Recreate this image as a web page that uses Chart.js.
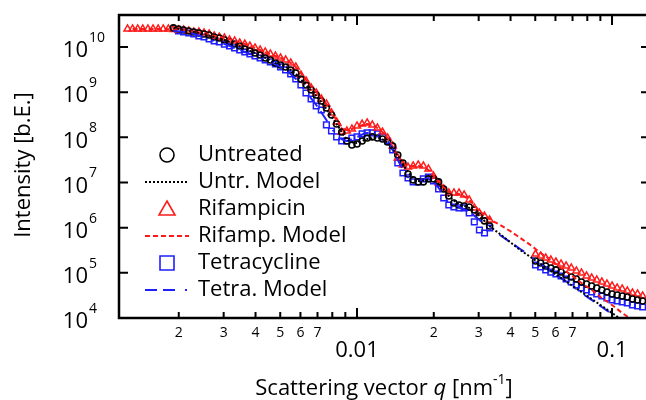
<!DOCTYPE html>
<html>
<head>
<meta charset="utf-8">
<script src="https://cdn.jsdelivr.net/npm/chart.js@4.4.1/dist/chart.umd.min.js"></script>
<style>
  html, body { margin: 0; padding: 0; background: #fff; overflow: hidden; }
  #wrap { width: 646px; height: 400px; overflow: hidden; }
</style>
</head>
<body>
<div id="wrap"><canvas id="saxsChart" width="660" height="400"></canvas></div>
<script>
// Measured q grid (nm^-1): two detector ranges
const qData = [
  0.001259, 0.001318, 0.001380, 0.001445, 0.001514, 0.001585, 0.001660, 0.001738, 0.001820, 0.001905,
  0.001995, 0.002089, 0.002188, 0.002291, 0.002399, 0.002512, 0.002630, 0.002754, 0.002884, 0.003020,
  0.003162, 0.003311, 0.003467, 0.003631, 0.003802, 0.003981, 0.004169, 0.004365, 0.004571, 0.004786,
  0.005012, 0.005248, 0.005495, 0.005754, 0.006026, 0.006310, 0.006607, 0.006918, 0.007244, 0.007586,
  0.007943, 0.008318, 0.008710, 0.009120, 0.009550, 0.01000, 0.01047, 0.01096, 0.01148, 0.01202,
  0.01259, 0.01318, 0.01380, 0.01445, 0.01514, 0.01585, 0.01660, 0.01738, 0.01820, 0.01905,
  0.01995, 0.02089, 0.02188, 0.02291, 0.02399, 0.02512, 0.02630, 0.02754, 0.02884, 0.03020,
  0.03162, 0.03311,
  0.05012, 0.05248, 0.05495, 0.05754, 0.06026, 0.06310, 0.06607, 0.06918, 0.07244, 0.07586,
  0.07943, 0.08318, 0.08710, 0.09120, 0.09550, 0.1000, 0.1047, 0.1096, 0.1148, 0.1202,
  0.1259, 0.1318
];

const untreated = [
  null, null, null, null, null, null, null, null, null, 2.64e10,
  2.50e10, 2.38e10, 2.26e10, 2.15e10, 2.04e10, 1.94e10, 1.84e10, 1.66e10, 1.58e10, 1.43e10,
  1.29e10, 1.16e10, 1.05e10, 9.03e9, 8.15e9, 7.36e9, 6.65e9, 5.71e9, 5.15e9, 4.42e9,
  4.00e9, 3.61e9, 3.10e9, 2.66e9, 1.96e9, 1.44e9, 1.12e9, 8.66e8, 6.38e8, 4.46e8,
  3.12e8, 1.97e8, 1.31e8, 8.30e7, 6.77e7, 7.12e7, 8.30e7, 9.67e7, 1.02e8, 9.67e7,
  9.19e7, 7.89e7, 6.43e7, 4.07e7, 2.70e7, 1.54e7, 1.14e7, 1.03e7, 1.03e7, 1.20e7,
  1.20e7, 1.03e7, 7.19e6, 5.03e6, 3.52e6, 3.18e6, 3.02e6, 2.87e6, 2.46e6, 1.81e6,
  1.41e6, 1.09e6,
  1.83e5, 1.65e5, 1.42e5, 1.28e5, 1.16e5, 1.04e5, 8.96e4, 8.10e4, 7.31e4, 6.28e4,
  5.67e4, 5.12e4, 4.62e4, 4.17e4, 3.77e4, 3.40e4, 3.23e4, 3.07e4, 2.92e4, 2.64e4,
  2.51e4, 2.38e4
];

const rifampicin = [
  2.50e10, 2.50e10, 2.50e10, 2.50e10, 2.50e10, 2.50e10, 2.50e10, 2.50e10, 2.50e10, 2.45e10,
  2.38e10, 2.38e10, 2.26e10, 2.15e10, 2.15e10, 2.04e10, 1.94e10, 1.75e10, 1.66e10, 1.58e10,
  1.43e10, 1.36e10, 1.23e10, 1.16e10, 1.05e10, 9.51e9, 8.59e9, 7.75e9, 7.00e9, 6.32e9,
  5.71e9, 5.15e9, 4.42e9, 3.61e9, 2.40e9, 1.77e9, 1.24e9, 9.59e8, 7.06e8, 5.47e8,
  3.46e8, 2.19e8, 1.31e8, 1.38e8, 1.53e8, 1.78e8, 1.97e8, 2.08e8, 1.88e8, 1.61e8,
  1.31e8, 9.67e7, 6.43e7, 3.49e7, 2.44e7, 2.20e7, 2.32e7, 2.44e7, 2.32e7, 1.99e7,
  1.39e7, 9.76e6, 7.19e6, 5.86e6, 5.86e6, 5.86e6, 5.29e6, 4.10e6, 2.73e6, 2.11e6,
  1.81e6, 1.48e6,
  2.61e5, 2.36e5, 2.13e5, 1.93e5, 1.74e5, 1.57e5, 1.42e5, 1.28e5, 1.10e5, 9.93e4,
  8.52e4, 7.69e4, 6.95e4, 6.28e4, 5.67e4, 5.12e4, 4.62e4, 4.39e4, 3.97e4, 3.58e4,
  3.40e4, 3.07e4
];

const tetracycline = [
  null, null, null, null, null, null, null, null, null, null,
  2.26e10, 2.15e10, 2.04e10, 1.94e10, 1.75e10, 1.66e10, 1.50e10, 1.36e10, 1.29e10, 1.16e10,
  1.05e10, 9.51e9, 8.59e9, 7.75e9, 7.00e9, 6.32e9, 5.71e9, 5.15e9, 4.66e9, 4.20e9,
  3.61e9, 3.10e9, 2.53e9, 1.96e9, 1.44e9, 9.59e8, 7.06e8, 4.94e8, 4.03e8, 1.88e8,
  1.38e8, 1.02e8, 8.30e7, 8.30e7, 9.67e7, 1.02e8, 1.19e8, 1.25e8, 1.25e8, 1.19e8,
  1.02e8, 8.30e7, 5.25e7, 2.70e7, 1.62e7, 1.26e7, 1.03e7, 1.03e7, 1.20e7, 1.32e7,
  1.08e7, 7.19e6, 4.54e6, 3.18e6, 2.87e6, 2.73e6, 2.73e6, 2.11e6, 1.34e6, 8.89e5,
  7.63e5, 9.84e5,
  1.49e5, 1.35e5, 1.16e5, 1.04e5, 9.43e4, 8.52e4, 7.31e4, 6.28e4, 5.39e4, 4.62e4,
  4.17e4, 3.77e4, 3.40e4, 3.07e4, 2.78e4, 2.51e4, 2.38e4, 2.26e4, 2.15e4, 1.94e4,
  1.85e4, 1.75e4
];

// Model curves
const qModel = [
  0.001318, 0.001445, 0.001585, 0.001738, 0.001905, 0.002089, 0.002291, 0.002512, 0.002754, 0.003020,
  0.003311, 0.003631, 0.003981, 0.004365, 0.004786, 0.005248, 0.005754, 0.006310, 0.006918, 0.007586,
  0.008318, 0.009120, 0.01000, 0.01096, 0.01202, 0.01318, 0.01445, 0.01585, 0.01738, 0.01905,
  0.02089, 0.02291, 0.02512, 0.02754, 0.03020, 0.03311, 0.03631, 0.03981, 0.04365, 0.04786,
  0.05248, 0.05754, 0.06310, 0.06918, 0.07586, 0.08318, 0.09120, 0.1000, 0.1096, 0.1202,
  0.1318
];

const untrModel = [
  null, null, null, null, 2.64e10, 2.38e10, 2.15e10, 1.94e10, 1.66e10, 1.43e10,
  1.16e10, 9.03e9, 7.36e9, 5.71e9, 4.42e9, 3.61e9, 2.53e9, 1.44e9, 8.23e8, 4.24e8,
  1.97e8, 9.19e7, 7.50e7, 9.19e7, 9.67e7, 7.50e7, 3.86e7, 1.71e7, 1.08e7, 1.14e7,
  9.27e6, 5.03e6, 3.34e6, 2.73e6, 1.81e6, 1.09e6, 7.25e5, 4.82e5, 3.21e5, 2.24e5,
  1.57e5, 1.10e5, 7.69e4, 5.39e4, 3.77e4, 2.64e4, 1.85e4, 1.29e4, 9.04e3, 6.33e3,
  4.4e3
];

const rifampModel = [
  2.50e10, 2.50e10, 2.50e10, 2.50e10, 2.44e10, 2.38e10, 2.15e10, 2.04e10, 1.75e10, 1.58e10,
  1.36e10, 1.16e10, 9.51e9, 7.75e9, 6.32e9, 5.15e9, 3.61e9, 1.86e9, 1.01e9, 5.47e8,
  2.42e8, 1.45e8, 1.69e8, 1.97e8, 1.61e8, 9.67e7, 3.86e7, 2.32e7, 2.32e7, 1.89e7,
  1.03e7, 6.17e6, 5.57e6, 4.10e6, 2.34e6, 1.56e6, 1.15e6, 8.45e5, 5.91e5, 4.14e5,
  2.75e5, 1.93e5, 1.28e5, 8.96e4, 5.96e4, 4.17e4, 2.78e4, 1.94e4, 1.29e4, 9.04e3,
  6.02e3
];

const tetraModel = [
  null, null, null, null, 2.26e10, 2.15e10, 1.94e10, 1.66e10, 1.36e10, 1.16e10,
  9.51e9, 7.75e9, 6.32e9, 5.15e9, 4.20e9, 3.10e9, 1.96e9, 1.01e9, 5.20e8, 2.42e8,
  1.13e8, 8.30e7, 1.02e8, 1.25e8, 1.19e8, 8.30e7, 3.15e7, 1.32e7, 1.08e7, 1.26e7,
  7.56e6, 3.52e6, 2.87e6, 2.22e6, 1.48e6, 9.84e5, 6.89e5, 4.82e5, 3.37e5, 2.36e5,
  1.57e5, 1.10e5, 7.69e4, 5.39e4, 3.58e4, 2.51e4, 1.75e4, 1.23e4, 8.6e3, 6.0e3,
  4.2e3
];

// Axis ticks and labels
const xMajorTicks = [0.01, 0.1];
const xMajorLabels = ['0.01', '0.1'];
const xMinorTicks = [0.002, 0.003, 0.004, 0.005, 0.006, 0.007, 0.008, 0.009,
                     0.02, 0.03, 0.04, 0.05, 0.06, 0.07, 0.08, 0.09];
const xMinorLabels = ['2', '3', '4', '5', '6', '7', '', '',
                      '2', '3', '4', '5', '6', '7', '', ''];
const yTicks = [1e4, 1e5, 1e6, 1e7, 1e8, 1e9, 1e10];
const yExponents = ['4', '5', '6', '7', '8', '9', '10'];

const FONT = '"Open Sans", "DejaVu Sans", sans-serif';
const RED = '#ff1a1a';
const BLUE = '#1f1fff';

function toPoints(xs, ys) {
  const pts = [];
  xs.forEach((q, i) => {
    if (ys[i] !== null) pts.push({ x: q, y: ys[i] });
  });
  return pts;
}

const legendRows = [
  { label: 'Untreated', kind: 'circle', color: '#000' },
  { label: 'Untr. Model', kind: 'line', color: '#000', dash: [2, 2] },
  { label: 'Rifampicin', kind: 'triangle', color: RED },
  { label: 'Rifamp. Model', kind: 'line', color: RED, dash: [5, 3] },
  { label: 'Tetracycline', kind: 'square', color: BLUE },
  { label: 'Tetra. Model', kind: 'line', color: BLUE, dash: [12, 6, 12, 10, 2, 10] }
];

// Frame, inward ticks, labels, titles and legend
const decorPlugin = {
  id: 'decor',
  afterDraw(chart) {
    const ctx = chart.ctx;
    const a = chart.chartArea;
    const xs = chart.scales.x;
    const ys = chart.scales.y;
    ctx.save();
    ctx.strokeStyle = '#000';
    ctx.fillStyle = '#000';
    ctx.setLineDash([]);

    ctx.lineWidth = 2.5;
    ctx.strokeRect(a.left, a.top, a.right - a.left, a.bottom - a.top);

    ctx.lineWidth = 2;
    ctx.beginPath();
    xMinorTicks.forEach(v => {
      const px = xs.getPixelForValue(v);
      ctx.moveTo(px, a.bottom); ctx.lineTo(px, a.bottom - 6);
      ctx.moveTo(px, a.top); ctx.lineTo(px, a.top + 6);
    });
    xMajorTicks.forEach(v => {
      const px = xs.getPixelForValue(v);
      ctx.moveTo(px, a.bottom); ctx.lineTo(px, a.bottom - 10);
      ctx.moveTo(px, a.top); ctx.lineTo(px, a.top + 10);
    });
    yTicks.forEach(v => {
      const py = ys.getPixelForValue(v);
      ctx.moveTo(a.left, py); ctx.lineTo(a.left + 9, py);
      ctx.moveTo(a.right, py); ctx.lineTo(a.right - 9, py);
    });
    ctx.stroke();

    // x tick labels
    ctx.textAlign = 'center';
    ctx.textBaseline = 'middle';
    ctx.font = '14px ' + FONT;
    xMinorTicks.forEach((v, i) => {
      if (xMinorLabels[i]) ctx.fillText(xMinorLabels[i], xs.getPixelForValue(v), a.bottom + 15);
    });
    ctx.font = '22px ' + FONT;
    xMajorTicks.forEach((v, i) => {
      ctx.fillText(xMajorLabels[i], xs.getPixelForValue(v), a.bottom + 33);
    });

    // y tick labels 10^n
    yTicks.forEach((v, i) => {
      const py = ys.getPixelForValue(v);
      ctx.font = '22px ' + FONT;
      ctx.textAlign = 'right';
      ctx.fillText('10', a.left - 31, py + 4);
      ctx.font = '14px ' + FONT;
      ctx.textAlign = 'left';
      ctx.fillText(yExponents[i], a.left - 30, py - 9);
    });

    // x axis title
    ctx.textBaseline = 'alphabetic';
    ctx.textAlign = 'left';
    const parts = [
      { t: 'Scattering vector ', f: '22px ' + FONT, dy: 0 },
      { t: 'q', f: 'italic 22px ' + FONT, dy: 0 },
      { t: ' [nm', f: '22px ' + FONT, dy: 0 },
      { t: '-1', f: '14px ' + FONT, dy: -11 },
      { t: ']', f: '22px ' + FONT, dy: 0 }
    ];
    let total = 0;
    parts.forEach(p => { ctx.font = p.f; p.w = ctx.measureText(p.t).width; total += p.w; });
    let cx = 384 - total / 2;
    parts.forEach(p => { ctx.font = p.f; ctx.fillText(p.t, cx, 395 + p.dy); cx += p.w; });

    // y axis title
    ctx.save();
    ctx.translate(24, 165);
    ctx.rotate(-Math.PI / 2);
    ctx.textAlign = 'center';
    ctx.textBaseline = 'middle';
    ctx.font = '22px ' + FONT;
    ctx.fillText('Intensity [b.E.]', 0, 0);
    ctx.restore();

    // legend
    legendRows.forEach((row, i) => {
      const y = 155 + 27 * i;
      const sx = 167;
      ctx.strokeStyle = row.color;
      ctx.setLineDash([]);
      ctx.lineWidth = 1.6;
      ctx.beginPath();
      if (row.kind === 'circle') {
        ctx.arc(sx, y, 7, 0, Math.PI * 2);
      } else if (row.kind === 'triangle') {
        ctx.moveTo(sx, y - 8); ctx.lineTo(sx + 8, y + 6); ctx.lineTo(sx - 8, y + 6); ctx.closePath();
      } else if (row.kind === 'square') {
        ctx.rect(sx - 7, y - 7, 14, 14);
      } else {
        ctx.lineWidth = 2;
        ctx.setLineDash(row.dash);
        ctx.moveTo(145, y); ctx.lineTo(189, y);
      }
      ctx.stroke();
      ctx.setLineDash([]);
      ctx.fillStyle = '#000';
      ctx.font = '22px ' + FONT;
      ctx.textAlign = 'left';
      ctx.textBaseline = 'middle';
      ctx.fillText(row.label, 198, y);
    });
    ctx.restore();
  }
};

const ctx = document.getElementById('saxsChart').getContext('2d');
new Chart(ctx, {
  type: 'scatter',
  data: {
    datasets: [
      {
        label: 'Untr. Model', data: toPoints(qModel, untrModel), showLine: true,
        borderColor: '#000', borderWidth: 2, borderDash: [2, 2], pointRadius: 0,
        cubicInterpolationMode: 'monotone', order: 0
      },
      {
        label: 'Tetra. Model', data: toPoints(qModel, tetraModel), showLine: true,
        borderColor: BLUE, borderWidth: 2, borderDash: [12, 6, 12, 10, 2, 10], pointRadius: 0,
        cubicInterpolationMode: 'monotone', order: 1
      },
      {
        label: 'Rifamp. Model', data: toPoints(qModel, rifampModel), showLine: true,
        borderColor: RED, borderWidth: 2, borderDash: [5, 3], pointRadius: 0,
        cubicInterpolationMode: 'monotone', order: 2
      },
      {
        label: 'Untreated', data: toPoints(qData, untreated), showLine: false,
        pointStyle: 'circle', pointRadius: 3, borderColor: '#000', borderWidth: 1.6,
        backgroundColor: 'rgba(0,0,0,0)', order: 3
      },
      {
        label: 'Rifampicin', data: toPoints(qData, rifampicin), showLine: false,
        pointStyle: 'triangle', pointRadius: 4, borderColor: RED, borderWidth: 1.5,
        backgroundColor: 'rgba(0,0,0,0)', order: 4
      },
      {
        label: 'Tetracycline', data: toPoints(qData, tetracycline), showLine: false,
        pointStyle: 'rect', pointRadius: 4, borderColor: BLUE, borderWidth: 1.5,
        backgroundColor: 'rgba(0,0,0,0)', order: 5
      }
    ]
  },
  options: {
    responsive: false,
    animation: false,
    layout: { padding: { left: 119, top: 15, right: 10, bottom: 82 } },
    plugins: { legend: { display: false }, tooltip: { enabled: false } },
    scales: {
      x: { type: 'logarithmic', min: 0.001166, max: 0.1409, bounds: 'data', display: false },
      y: { type: 'logarithmic', min: 1e4, max: 5.1e10, bounds: 'data', display: false }
    }
  },
  plugins: [decorPlugin]
});
</script>
</body>
</html>
